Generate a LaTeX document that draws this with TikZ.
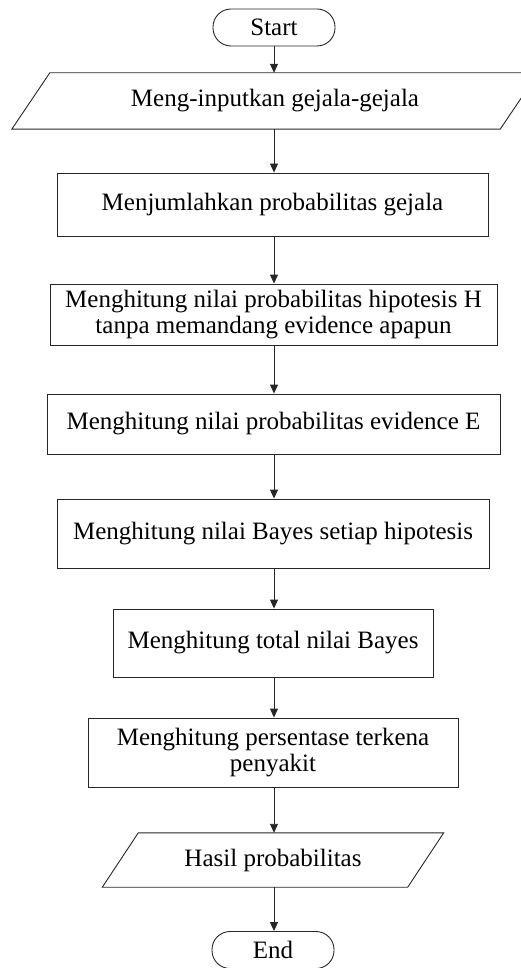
\documentclass[tikz,border=0pt]{standalone}
\usepackage{fontspec}
\setmainfont{Liberation Serif}
\usetikzlibrary{arrows.meta,calc}

\begin{document}
\begin{tikzpicture}[x=1pt,y=-1pt,
  every node/.style={font=\fontsize{25}{26}\selectfont, inner sep=0pt, align=center},
  edge/.style={draw=black!85, line width=0.9pt},
  procbox/.style={edge},
  term/.style={edge, rounded corners=18pt, minimum width=122pt, minimum height=37pt},
  iobox/.style={minimum height=55pt},
  flow/.style={draw=black!85, line width=0.9pt, -{Triangle[length=9pt,width=8pt]}}]
\useasboundingbox (0,0) rectangle (521,968);

% terminals
\node[term] (start) at (274,27.5) {Start};
\node[term] (end) at (273,950) {End};

% input / output (parallelograms drawn around invisible nodes)
\node[iobox, minimum width=488pt, minimum height=56pt] (in) at (275,101) {Meng-inputkan gejala-gejala};
\node[iobox, minimum width=305pt, minimum height=54pt] (out) at (273,860) {Hasil probabilitas};
\foreach \n/\s in {in/19pt, out/18pt}{
  \draw[edge] ($(\n.north west)+(\s,0)$) -- ($(\n.north east)+(\s,0)$)
    -- ($(\n.south east)-(\s,0)$) -- ($(\n.south west)-(\s,0)$) -- cycle;
}

% process steps
\node[procbox, minimum width=431pt, minimum height=63pt] (sum) at (272.5,204.5) {Menjumlahkan probabilitas gejala};
\node[procbox, minimum width=447pt, minimum height=61pt] (ph) at (273.5,314.5) {Menghitung nilai probabilitas hipotesis H\\tanpa memandang evidence apapun};
\node[procbox, minimum width=453pt, minimum height=60pt] (pe) at (273.5,424) {Menghitung nilai probabilitas evidence E};
\node[procbox, minimum width=432pt, minimum height=69pt] (bayes) at (273,533.5) {Menghitung nilai Bayes setiap hipotesis};
\node[procbox, minimum width=320pt, minimum height=68pt] (total) at (273,643) {Menghitung total nilai Bayes};
\node[procbox, minimum width=370pt, minimum height=69pt] (pct) at (273,752.5) {Menghitung persentase terkena\\penyakit};

% connectors
\coordinate (axis) at (274,0);
\foreach \a/\b in {start/in, in/sum, sum/ph, ph/pe, pe/bayes, bayes/total, total/pct, pct/out, out/end}{
  \draw[flow] (axis |- \a.south) -- (axis |- \b.north);
}
\end{tikzpicture}
\end{document}
